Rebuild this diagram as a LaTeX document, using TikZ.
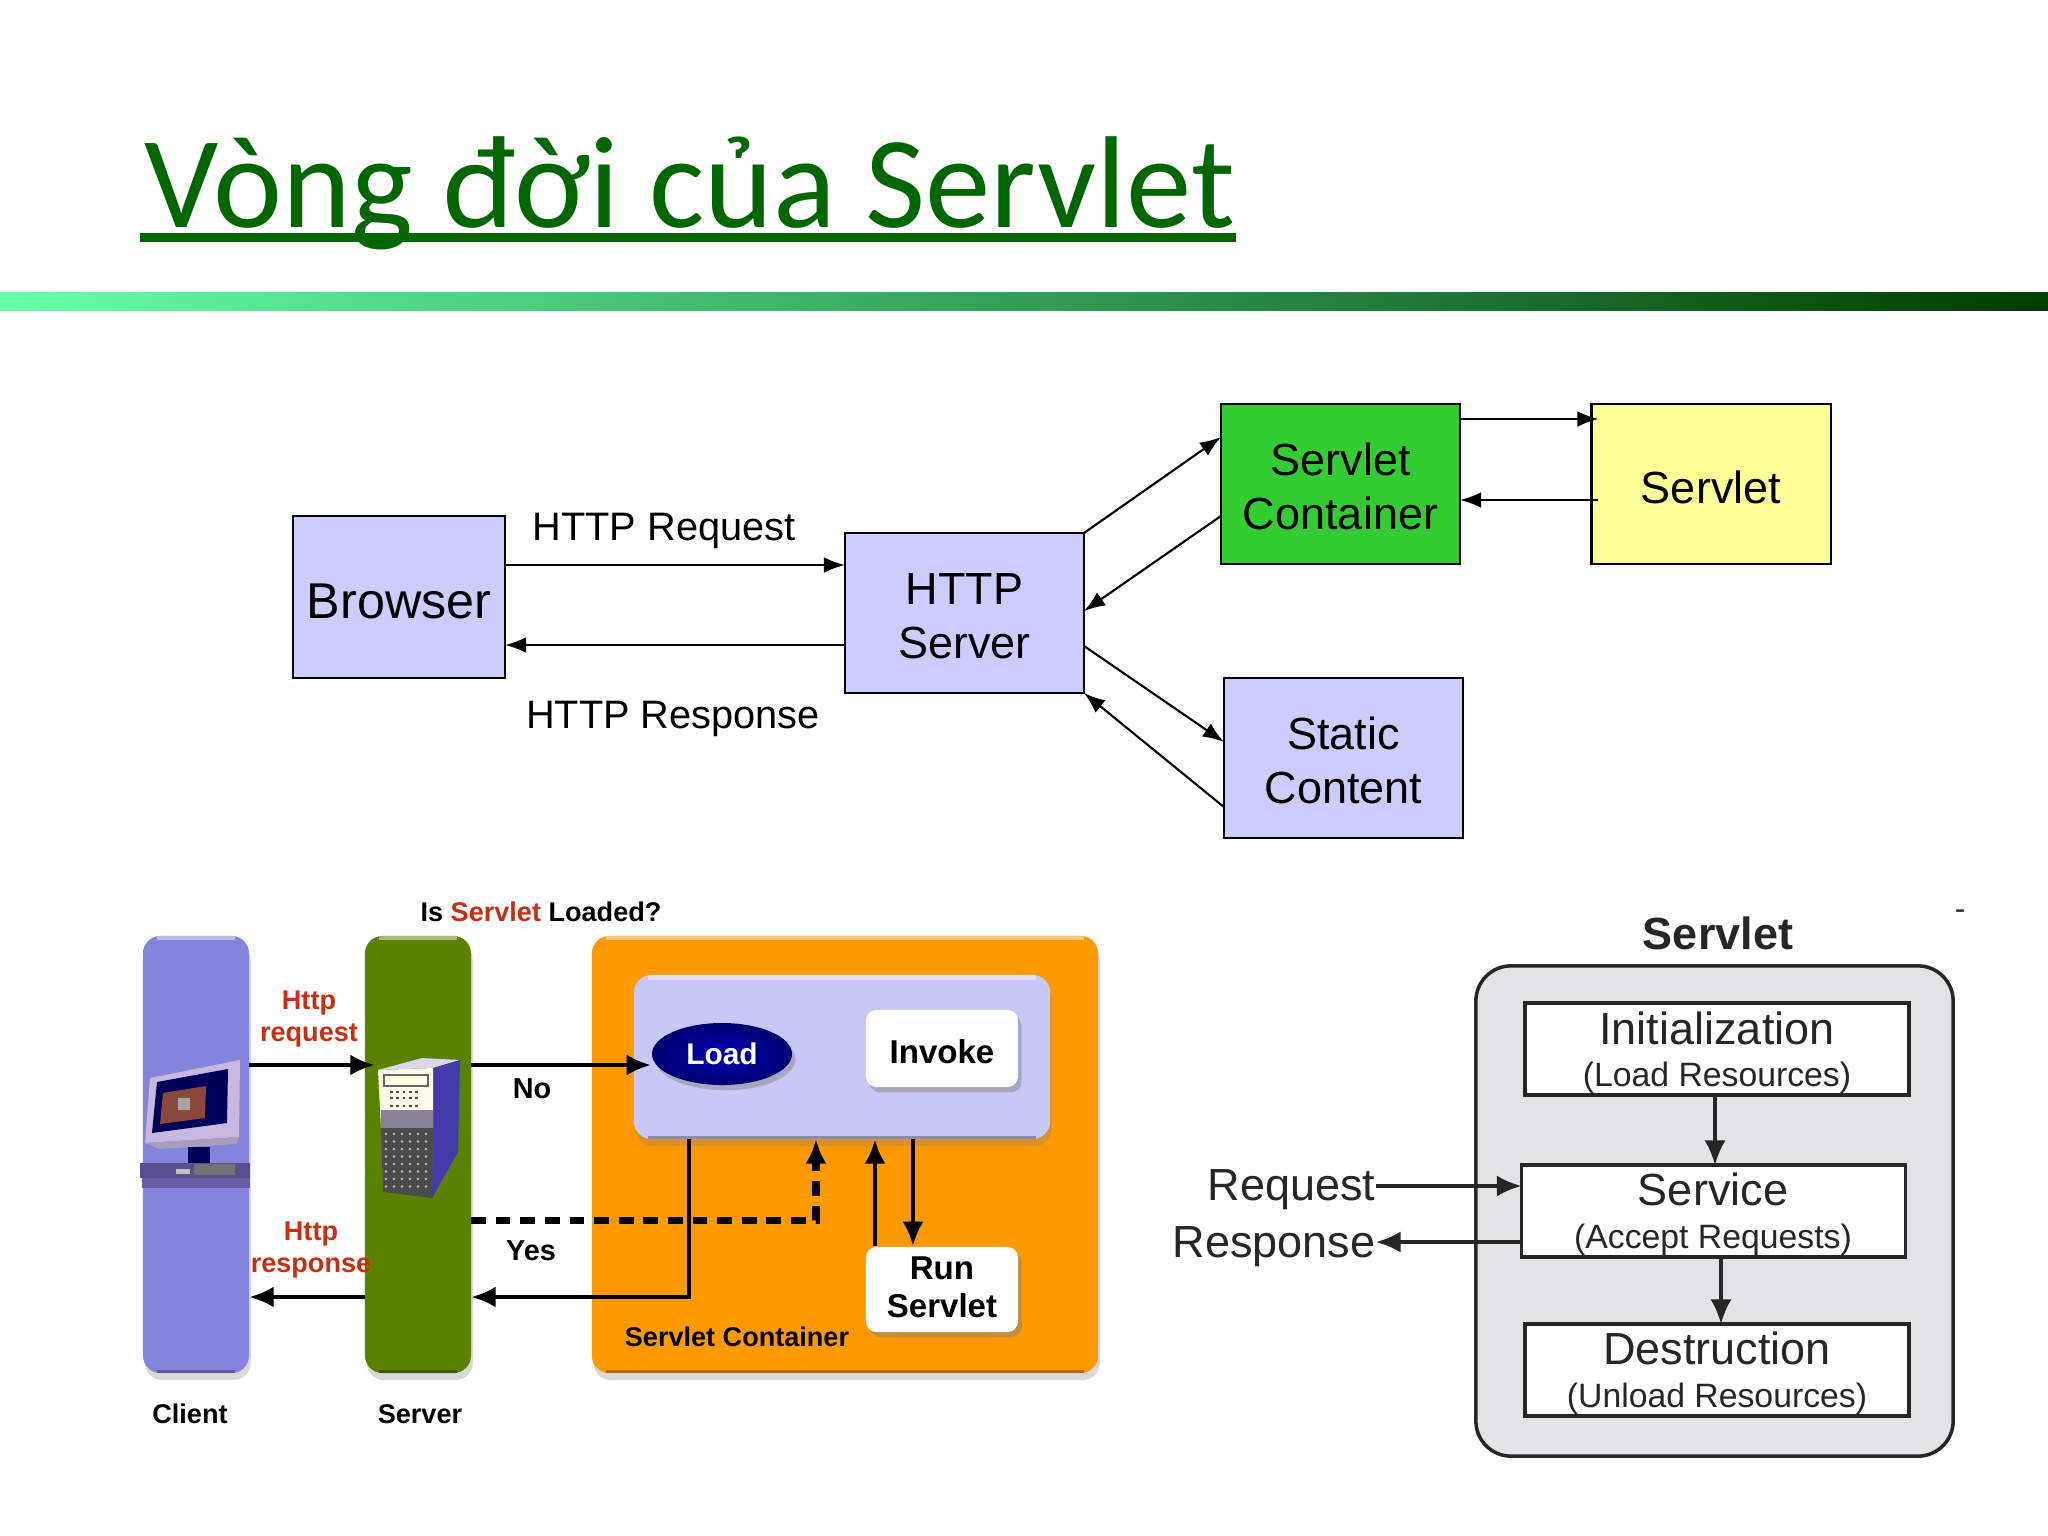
\documentclass[tikz,border=0pt]{standalone}
\usepackage{fontspec}
\usepackage{xcolor}
\usetikzlibrary{shadows,shapes.geometric,arrows.meta}
\setmainfont{Liberation Sans}
\newfontfamily\titlefont{Carlito}
\newcommand{\lowerline}{\rule{0pt}{10.6pt}}
\definecolor{c1}{HTML}{CCCCFF}
\definecolor{c2}{HTML}{33CC33}
\definecolor{c3}{HTML}{FFFF99}
\definecolor{c4}{HTML}{006600}
\definecolor{c5}{HTML}{8484DC}
\definecolor{c6}{HTML}{5A8200}
\definecolor{c7}{HTML}{FF9900}
\definecolor{c8}{HTML}{C8C8F6}
\definecolor{c9}{HTML}{C62F12}
\definecolor{c10}{HTML}{E3E3E6}
\definecolor{c11}{HTML}{C8B8E0}
\definecolor{c12}{HTML}{5A4E90}
\tikzset{
    plainbox/.style={draw=black, line width=0.6pt, outer sep=0pt, minimum width=2.39cm, minimum height=1.6cm,
        align=center, font=\fontsize{12.8}{15.3}\selectfont, execute at begin node={\rule{0pt}{0.88em}}},
    flowarrow/.style={-{Latex[length=6pt,width=4.5pt]}, line width=0.6pt},
    bar/.style={rounded corners=5pt, outer sep=0pt, drop shadow={shadow xshift=0.5pt, shadow yshift=-2pt, opacity=0.3}},
    softbox/.style={fill=white, rounded corners=3pt, minimum width=1.52cm, align=center, font=\fontsize{9.4}{10.8}\bfseries\selectfont,
        drop shadow={shadow xshift=1pt, shadow yshift=-1.5pt, opacity=0.45}},
    boldlabel/.style={font=\fontsize{7.7}{9}\bfseries\selectfont, align=center},
    thickarrow/.style={-{Latex[length=7pt,width=6pt]}, line width=1.4pt},
    stagebox/.style={draw=black!85, line width=1pt, fill=white, minimum width=3.84cm, minimum height=0.92cm, outer sep=0pt},
    stagetitle/.style={font=\fontsize{12.8}{15}\selectfont, text=black!85},
    stagenote/.style={font=\fontsize{9.6}{12}\selectfont, text=black!85},
    stagearrow/.style={-{Latex[length=7pt,width=6pt]}, line width=0.9pt, draw=black!85},
}
\begin{document}
\begin{tikzpicture}[x=0.01cm, y=-0.01cm]
    \useasboundingbox (0,0) rectangle (2048,1536);
    % heading
    \node [anchor=base, text=c4, font=\titlefont\fontsize{37.2}{40}\selectfont] (heading) at (690,227) {Vòng đời của Servlet};
    \fill [c4] (140,233) rectangle (1236,242);
    \shade [left color=green!55!cyan!60!white, right color=c4!60!black] (0,292) rectangle (2048,310);

    % top flow
    \node [plainbox, fill=c1, minimum width=2.12cm, minimum height=1.62cm, font=\fontsize{14.3}{16}\selectfont] (browser) at (399,597) {Browser};
    \node [plainbox, fill=c1] (http) at (964.5,613) {\lowerline HTTP\\Server};
    \node [plainbox, fill=c2] (container) at (1340.5,484) {\lowerline Servlet\\Container};
    \node [plainbox, fill=c3] (servlet) at (1711,484) {Servlet};
    \node [plainbox, fill=c1] (static) at (1343.5,758) {\lowerline Static\\Content};
    \node [font=\fontsize{11.3}{13}\selectfont] (reqlabel) at (664,531) {HTTP Request};
    \node [font=\fontsize{11.3}{13}\selectfont] (resplabel) at (673,719) {HTTP Response};
    \draw [flowarrow] (browser.east |- 0,565) -- (http.west |- 0,565);
    \draw [flowarrow] (http.west |- 0,645) -- (browser.east |- 0,645);
    \draw [flowarrow] (http.north east) -- (container.west |- 0,437);
    \draw [flowarrow] (container.west |- 0,516) -- (http.east |- 0,611);
    \draw [flowarrow] (http.east |- 0,646) -- (static.west |- 0,742);
    \draw [flowarrow] (static.west |- 0,807) -- (http.south east);
    \draw [flowarrow] (container.east |- 0,419) -- ([xshift=0.07cm]servlet.west |- 0,419);
    \draw [flowarrow] ([xshift=0.07cm]servlet.west |- 0,500) -- (container.east |- 0,500);

    % request handling
    \node [bar, fill=c5, minimum width=1.06cm, minimum height=4.37cm] (client) at (196,1154.5) {};
    \node [bar, fill=c6, minimum width=1.06cm, minimum height=4.37cm] (server) at (418,1154.5) {};
    \node [bar, fill=c7, minimum width=5.06cm, minimum height=4.37cm] (orange) at (845,1154.5) {};
    \node [bar, fill=c8, minimum width=4.16cm, minimum height=1.64cm] (inner) at (842,1057) {};
    \foreach \n in {client,server,orange,inner} {
        \draw [white, opacity=0.45, line width=1.2pt] ([xshift=4pt,yshift=-0.7pt]\n.north west) -- ([xshift=-4pt,yshift=-0.7pt]\n.north east);
        \draw [black, opacity=0.3, line width=0.8pt] ([xshift=4pt,yshift=0.4pt]\n.south west) -- ([xshift=-4pt,yshift=0.4pt]\n.south east);
    }
    \node [ellipse, inner color=blue!70!black, outer color=blue!45!black, text=white, minimum width=1.4cm, minimum height=0.62cm, inner sep=0pt,
        font=\fontsize{8.5}{10}\bfseries\selectfont, drop shadow={shadow xshift=1pt, shadow yshift=-1.5pt, opacity=0.45}] (load) at (722,1054) {Load};
    \node [softbox, minimum height=0.77cm, execute at begin node={\rule{0pt}{0.9em}}] (invoke) at (942,1048.5) {Invoke};
    \node [softbox, minimum height=0.85cm, inner sep=1pt] (run) at (942,1289.5) {Run\\Servlet\rule[-1.5pt]{0pt}{1.5pt}};

    % client machine
    \fill [c11] (145,1143) -- (150,1078) -- (240,1060) -- (239,1137) -- cycle;
    \fill [black!65!blue] (157,1082) -- (228,1069) -- (227,1123) -- (152,1133) -- cycle;
    \fill [c9!55!black!80] (163,1093) -- (206,1086) -- (205,1118) -- (160,1124) -- cycle;
    \fill [black!35] (178,1098) rectangle (190,1110);
    \fill [c11!85!black] (145,1143) -- (239,1137) -- (236,1144) -- (160,1149) -- cycle;
    \fill [blue!35!black] (188,1147) rectangle (210,1163);
    \fill [c12] (140,1163) rectangle (250,1178);
    \fill [c12!70!c5] (142,1178) rectangle (250,1188);
    \fill [black!55] (194,1164) rectangle (235,1175);
    \fill [black!25] (176,1169) rectangle (190,1174);
    % server machine
    \fill [c11!60!white] (378,1070) -- (422,1058) -- (460,1060) -- (433,1068) -- cycle;
    \fill [c12!75!blue] (433,1068) -- (460,1060) -- (458,1152) -- (432,1198) -- cycle;
    \fill [black!10!yellow!10!white] (378,1070) -- (433,1068) -- (433,1128) -- (381,1128) -- cycle;
    \fill [c11!70!black] (381,1110) rectangle (433,1128);
    \fill [black!70] (381,1128) -- (433,1128) -- (432,1198) -- (383,1192) -- cycle;
    \foreach \i in {0,...,5} {
        \foreach \j in {0,...,7} {
            \fill [white!75!black] (386+\i*8,1134+\j*7.5) circle (1.4);
        }
    }
    \draw [black!60] (384,1075) rectangle (428,1086);
    \draw [black!70, densely dotted, line width=0.8pt] (390,1092) -- (420,1092);
    \draw [black!70, densely dotted, line width=0.8pt] (390,1098) -- (420,1098);
    \draw [black!70, densely dotted, line width=0.8pt] (390,1106) -- (420,1106);

    \node [boldlabel] (isloaded) at (541,912) {Is \textcolor{c9}{Servlet} Loaded?};
    \node [boldlabel, text=c9] (httpreq) at (309,1019) {Http\\request};
    \node [boldlabel, text=c9] (httpresp) at (311,1250) {Http\\response};
    \node [boldlabel, font=\fontsize{8.2}{10}\bfseries\selectfont] (nolabel) at (532,1089) {No};
    \node [boldlabel, font=\fontsize{8.2}{10}\bfseries\selectfont] (yeslabel) at (531,1251) {Yes};
    \node [boldlabel] (contlabel) at (737,1337) {Servlet Container};
    \node [boldlabel] (clientlabel) at (190,1414) {Client};
    \node [boldlabel] (serverlabel) at (420,1414) {Server};
    \draw [thickarrow] (client.east |- 0,1065) -- ([xshift=0.1cm]server.west |- 0,1065);
    \draw [thickarrow] (server.east |- 0,1065) -- (load.west |- 0,1065);
    \draw [thickarrow] (server.west |- 0,1297) -- (client.east |- 0,1297);
    \draw [thickarrow] (inner.south -| 689,0) |- (server.east |- 0,1297);
    \draw [thickarrow, line width=2pt, dash pattern=on 4.2pt off 2.8pt] (server.east |- 0,1220) -| (inner.south -| 816,0);
    \draw [thickarrow] (run.north -| 875,0) -- (inner.south -| 875,0);
    \draw [thickarrow] (inner.south -| 913,0) -- (run.north -| 913,0);

    % life cycle
    \node [draw=black!85, line width=1pt, fill=c10, rounded corners=10pt, minimum width=4.77cm, minimum height=4.9cm] (outer) at (1714.5,1211) {};
    \node [font=\fontsize{12.8}{15}\bfseries\selectfont, text=black!85] (cycletitle) at (1718,933) {Servlet};
    \node [text=black!85, font=\fontsize{9}{10}\selectfont] (dashmark) at (1960,915) {-};
    \node [stagebox] (init) at (1717,1049) {};
    \node [stagebox] (service) at (1713.5,1211) {};
    \node [stagebox] (destroy) at (1717,1370) {};
    \node [stagetitle] (inittext) at (1717,1028) {Initialization};
    \node [stagenote] (initnote) at (1717,1078) {(Load Resources)};
    \node [stagetitle] (servicetext) at (1713,1189) {Service};
    \node [stagenote] (servicenote) at (1713,1240) {(Accept Requests)};
    \node [stagetitle] (destroytext) at (1717,1348) {Destruction};
    \node [stagenote] (destroynote) at (1717,1399) {(Unload Resources)};
    \node [stagetitle, anchor=east, inner sep=0pt] (reqtext) at (1376,1190) {Request};
    \node [stagetitle, anchor=east, inner sep=0pt] (resptext) at (1376,1247) {Response};
    \draw [stagearrow] (init.south -| 1715,0) -- (service.north -| 1715,0);
    \draw [stagearrow] (service.south -| 1721,0) -- (destroy.north -| 1721,0);
    \draw [stagearrow] (reqtext.east |- 0,1186) -- (service.west |- 0,1186);
    \draw [stagearrow] (service.west |- 0,1242) -- (resptext.east |- 0,1242);
\end{tikzpicture}
\end{document}
